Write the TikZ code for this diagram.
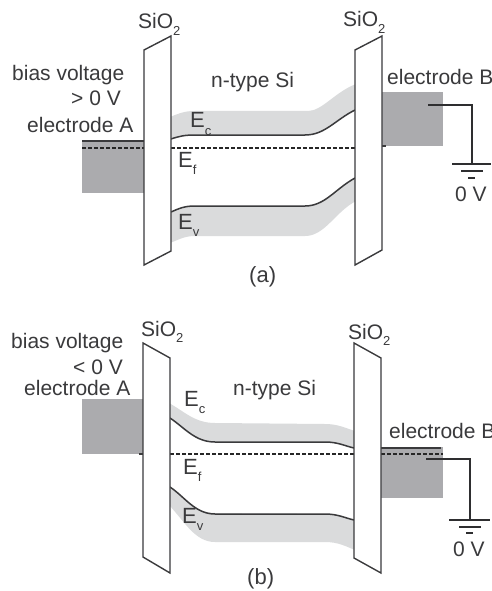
\documentclass[tikz,border=0pt]{standalone}
\usepackage{fontspec}
\setmainfont{Liberation Sans}
\definecolor{ink}{HTML}{3A3A3C}
\definecolor{elec}{HTML}{ABABAE}
\definecolor{band}{HTML}{DADBDC}
\newcommand{\lowsub}[1]{\raisebox{-0.32em}{\fontsize{13}{14}\selectfont #1}}
\tikzset{
  lbl/.style={font=\fontsize{21}{23}\selectfont,text=ink,inner sep=0pt,anchor=base west},
  lblr/.style={lbl,anchor=base east},
  small/.style={font=\fontsize{22}{24}\selectfont,text=ink,inner sep=0pt,anchor=base west},
  barrier/.style={draw=ink,line width=1.4pt,fill=white,line join=miter},
  level/.style={draw=ink,line width=1.5pt},
  fermi/.style={draw=black!85,line width=1.2pt,dash pattern=on 4pt off 2pt},
  wire/.style={draw=ink!80!black,line width=2pt},
  elecbox/.style={fill=elec,draw=none},
  bandfill/.style={fill=band,draw=none}
}
\begin{document}
\begin{tikzpicture}[x=1pt,y=-1pt]
\useasboundingbox (0,0) rectangle (491,591);
\fill[white] (0,0) rectangle (491,591);
% ---------- panel (a)
\fill[elecbox] (82,140) rectangle (145,193);
\fill[elecbox] (381,92) rectangle (443,146);
\fill[bandfill] (170,117) .. controls (180,113) and (185,111) .. (195,111) -- (308,111)
  .. controls (322,111) and (335,92) .. (356,84) -- (356,110)
  .. controls (335,120) and (325,135) .. (305,135) -- (195,135)
  .. controls (185,135) and (180,136) .. (170,139) -- cycle;
\fill[bandfill] (170,212) .. controls (180,208) and (185,206) .. (195,206) -- (305,206)
  .. controls (325,206) and (335,188) .. (356,178) -- (356,201)
  .. controls (335,212) and (325,236) .. (305,236) -- (195,236)
  .. controls (185,236) and (180,239) .. (170,243) -- cycle;
\draw[level] (82,141) -- (144,141);
\draw[fermi] (82,148) -- (144,148);
\draw[fermi] (171,148) -- (355,148);
\draw[level] (382,146) -- (386,146);
\draw[level] (171,139) .. controls (180,136) and (185,135) .. (195,135) -- (305,135)
  .. controls (325,135) and (335,120) .. (355,110);
\draw[level] (171,212) .. controls (180,208) and (185,206) .. (195,206) -- (305,206)
  .. controls (325,206) and (335,189) .. (355,178);
\draw[barrier] (144,50) -- (171,36) -- (171,251) -- (144,265) -- cycle;
\draw[barrier] (355,50) -- (382,36) -- (382,250) -- (355,265) -- cycle;
\node[lbl] (sioa1) at (138,29) {SiO\lowsub{2}};
\node[lbl] (sioa2) at (343,27) {SiO\lowsub{2}};
\node[lbl] (biasa) at (12,81) {bias voltage};
\node[lblr] (vola) at (121,106) {> 0 V};
\node[lbl] (elAa) at (27,132) {electrode A};
\node[lbl] (elBa) at (387,85) {electrode B};
\node[lbl] (nsia) at (211,88) {n-type Si};
\node[small] (eca) at (190,128) {E\lowsub{c}};
\node[small] (efa) at (178,167) {E\lowsub{f}};
\node[small] (eva) at (178,229) {E\lowsub{v}};
\node[lbl,font=\fontsize{22}{24}\selectfont] (capa) at (249,282) {(a)};
\coordinate (wa0) at (428,105);
\coordinate (wa1) at (472,164);
\draw[wire,line join=miter] (wa0) -| (wa1);
\draw[wire] (452,164) -- (491,164);
\draw[wire] (461,171) -- (483,171);
\draw[wire] (468,178) -- (475,178);
\node[lbl] (gva) at (455,201) {0 V};
% ---------- panel (b)
\fill[elecbox] (82,399) rectangle (144,454);
\fill[elecbox] (380,447) rectangle (443,498);
\fill[bandfill] (169,403) .. controls (185,412) and (195,423) .. (215,423) -- (325,424)
  .. controls (338,424) and (345,428) .. (355,431) -- (355,448)
  .. controls (345,446) and (338,442) .. (325,442) -- (215,442)
  .. controls (195,442) and (185,428) .. (169,418) -- cycle;
\fill[bandfill] (169,487) .. controls (185,497) and (195,513) .. (215,513) -- (325,514)
  .. controls (338,514) and (345,518) .. (355,520) -- (355,550)
  .. controls (345,546) and (338,542) .. (325,542) -- (215,542)
  .. controls (195,542) and (185,522) .. (169,505) -- cycle;
\draw[level] (381,448) -- (441,448);
\draw[fermi] (381,454) -- (443,454);
\draw[fermi] (170,454) -- (354,454);
\draw[level] (139,454) -- (143,454);
\draw[level] (170,418) .. controls (185,428) and (195,442) .. (215,442) -- (325,442)
  .. controls (338,442) and (345,446) .. (354,448);
\draw[level] (170,487) .. controls (185,497) and (195,514) .. (215,514) -- (325,514)
  .. controls (338,514) and (345,518) .. (354,520);
\draw[barrier] (143,343) -- (170,358) -- (170,573) -- (143,557) -- cycle;
\draw[barrier] (354,343) -- (381,358) -- (381,573) -- (354,558) -- cycle;
\node[lbl] (siob1) at (141,336) {SiO\lowsub{2}};
\node[lbl] (siob2) at (348,339) {SiO\lowsub{2}};
\node[lbl] (biasb) at (11,348) {bias voltage};
\node[lblr] (volb) at (123,374) {< 0 V};
\node[lbl] (elAb) at (24,395) {electrode A};
\node[lbl] (elBb) at (389,438) {electrode B};
\node[lbl] (nsib) at (233,395) {n-type Si};
\node[small] (ecb) at (184,406) {E\lowsub{c}};
\node[small] (efb) at (183,474) {E\lowsub{f}};
\node[small] (evb) at (182,523) {E\lowsub{v}};
\node[lbl,font=\fontsize{22}{24}\selectfont] (capb) at (247,584) {(b)};
\coordinate (wb0) at (426,459);
\coordinate (wb1) at (470,520);
\draw[wire,line join=miter] (wb0) -| (wb1);
\draw[wire] (449,520) -- (490,520);
\draw[wire] (459,527) -- (481,527);
\draw[wire] (466,533) -- (473,533);
\node[lbl] (gvb) at (453,556) {0 V};
\end{tikzpicture}
\end{document}
